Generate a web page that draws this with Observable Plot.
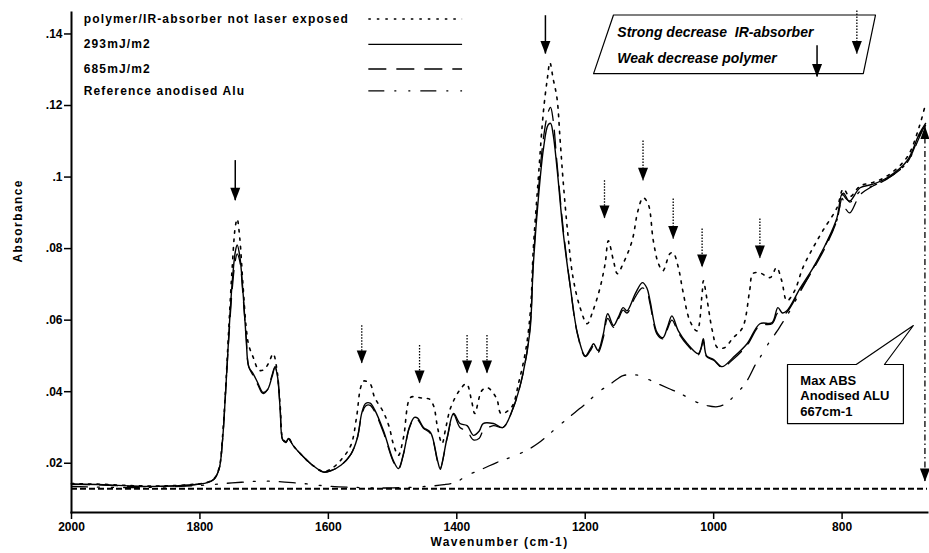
<!DOCTYPE html>
<html><head><meta charset="utf-8">
<script src="https://cdn.jsdelivr.net/npm/d3@7"></script>
<script src="https://cdn.jsdelivr.net/npm/@observablehq/plot@0.6"></script>
<style>
html,body{margin:0;padding:0;background:#fff;}
#chart{width:929px;height:553px;}
</style></head><body><div id="chart"></div>
<script>
// ---- axis ticks ----
const xTicks = [2000, 1800, 1600, 1400, 1200, 1000, 800];
const yTicks = [0.02, 0.04, 0.06, 0.08, 0.1, 0.12, 0.14];

// ---- series: shared wavenumber grid for the two laser-exposed samples ----
const wnGrid = [2000,1950,1900,1850,1810,1790,1778,1770,1765,1760,1755,1750,1745,1742,1738,1733,1728,1724,1717,1710,1702,1695,1688,1683,1679,1675,1671,1666,1662,1655,1640,1625,1608,1595,1580,1565,1555,1548,1542,1535,1528,1514,1499,1491,1483,1474,1466,1461,1452,1441,1430,1426,1415,1405,1395,1384,1374,1365,1359,1343,1328,1312,1297,1286,1281,1273,1265,1258,1254,1250,1244,1234,1223,1212,1200,1192,1187,1180,1172,1165,1156,1148,1141,1135,1122,1111,1104,1099,1088,1079,1072,1065,1055,1041,1024,1020,1016,1011,1000,987,970,948,928,909,900,893,886,865,845,823,808,800,794,788,772,752,730,699,680,670];
const abs293 = [0.0142,0.0140,0.0136,0.0136,0.0140,0.0145,0.0155,0.0185,0.026,0.040,0.056,0.070,0.079,0.081,0.078,0.068,0.055,0.047,0.045,0.0425,0.0398,0.0405,0.044,0.0468,0.044,0.035,0.0265,0.026,0.0269,0.025,0.022,0.0195,0.0176,0.018,0.0195,0.0225,0.027,0.034,0.0367,0.0368,0.035,0.029,0.0208,0.0185,0.0227,0.030,0.0328,0.0326,0.030,0.0286,0.0208,0.0185,0.0272,0.0339,0.0311,0.0305,0.0278,0.029,0.0311,0.0311,0.030,0.0356,0.045,0.057,0.075,0.094,0.108,0.1145,0.115,0.112,0.1026,0.084,0.069,0.0562,0.050,0.052,0.0534,0.0515,0.056,0.0618,0.0585,0.061,0.0635,0.0626,0.0674,0.0705,0.069,0.0654,0.0565,0.0551,0.058,0.0612,0.057,0.0534,0.0506,0.052,0.0548,0.050,0.049,0.047,0.0495,0.0534,0.059,0.0593,0.0635,0.062,0.0626,0.069,0.0747,0.0822,0.0886,0.0953,0.094,0.0933,0.097,0.098,0.0998,0.1045,0.112,0.115];
const abs685 = [0.0141,0.0139,0.0135,0.0136,0.0140,0.0146,0.0156,0.0185,0.026,0.040,0.055,0.068,0.0765,0.0785,0.0765,0.067,0.055,0.047,0.0445,0.042,0.0395,0.0405,0.0445,0.047,0.044,0.035,0.0265,0.0258,0.0268,0.025,0.022,0.0195,0.0175,0.018,0.0195,0.0225,0.027,0.0335,0.036,0.0362,0.0345,0.0285,0.0205,0.0183,0.0225,0.0298,0.0325,0.0322,0.0298,0.0283,0.0205,0.0183,0.027,0.0336,0.030,0.029,0.0265,0.027,0.029,0.0305,0.030,0.0355,0.045,0.058,0.076,0.096,0.111,0.118,0.1195,0.116,0.104,0.085,0.069,0.056,0.0498,0.0515,0.0528,0.051,0.055,0.0605,0.058,0.0605,0.0628,0.062,0.0665,0.069,0.068,0.0645,0.056,0.0548,0.0575,0.060,0.0565,0.053,0.0503,0.0518,0.054,0.0498,0.0488,0.0468,0.049,0.053,0.0585,0.059,0.062,0.0615,0.0622,0.0685,0.0742,0.0815,0.088,0.094,0.091,0.090,0.095,0.0975,0.0995,0.104,0.1115,0.1145];

// ---- not laser exposed ----
const wnNE = [2000,1950,1900,1850,1810,1790,1778,1770,1765,1760,1755,1750,1745,1742,1738,1733,1728,1724,1717,1708,1700,1693,1686,1680,1675,1671,1666,1662,1655,1640,1625,1608,1595,1580,1565,1556,1550,1545,1535,1528,1514,1505,1499,1491,1483,1472,1461,1450,1443,1436,1430,1423,1417,1410,1396,1385,1377,1372,1361,1352,1338,1331,1315,1303,1292,1285,1281,1273,1265,1259,1255,1250,1244,1239,1234,1227,1219,1208,1197,1188,1177,1169,1164,1156,1150,1141,1127,1118,1110,1102,1094,1086,1079,1068,1063,1055,1048,1037,1026,1018,1016,1010,1002,994,983,970,955,944,939,928,912,902,894,886,874,861,845,830,808,798,788,772,752,730,699,680,670];
const absNE = [0.0143,0.0141,0.0137,0.0137,0.0141,0.0146,0.0157,0.0188,0.027,0.041,0.058,0.074,0.086,0.0883,0.083,0.070,0.058,0.053,0.0496,0.046,0.0462,0.048,0.0506,0.046,0.036,0.027,0.026,0.027,0.025,0.022,0.0195,0.0177,0.0185,0.021,0.025,0.033,0.041,0.043,0.0422,0.0384,0.0342,0.030,0.0255,0.0222,0.0272,0.0384,0.0384,0.0381,0.038,0.036,0.030,0.0255,0.030,0.0353,0.0403,0.0422,0.0375,0.0339,0.0403,0.0411,0.0381,0.0339,0.0356,0.043,0.0523,0.0635,0.0794,0.0998,0.1185,0.1275,0.132,0.1275,0.1221,0.1101,0.098,0.084,0.0719,0.0635,0.059,0.0626,0.069,0.0758,0.0822,0.0766,0.073,0.0758,0.0822,0.0905,0.0942,0.0925,0.0822,0.0758,0.0738,0.0786,0.0788,0.0747,0.0682,0.0598,0.057,0.0674,0.071,0.0654,0.057,0.0523,0.0523,0.055,0.0579,0.0682,0.073,0.0732,0.0719,0.0747,0.071,0.0654,0.0682,0.0747,0.0803,0.085,0.0914,0.0967,0.0945,0.0975,0.0985,0.1003,0.1055,0.114,0.1205];

// ---- reference anodised Alu ----
const wnRef = [2000,1900,1800,1750,1700,1650,1600,1550,1500,1450,1420,1400,1385,1359,1338,1317,1291,1274,1255,1235,1216,1197,1180,1158,1141,1125,1115,1094,1070,1052,1028,1010,994,981,966,950,934,928,915,901,896,880,865,845,823,808,798,788,772,752,730,699,680,670];
const absRef = [0.0135,0.0132,0.0138,0.0145,0.0150,0.0145,0.0136,0.0132,0.0131,0.0135,0.0140,0.0148,0.0165,0.0185,0.0202,0.0216,0.0236,0.0255,0.0283,0.0314,0.0342,0.0370,0.0398,0.0425,0.0445,0.0447,0.0445,0.0428,0.0409,0.0395,0.0372,0.0361,0.0358,0.0367,0.0392,0.0425,0.0479,0.0495,0.0534,0.057,0.0584,0.063,0.068,0.0745,0.082,0.088,0.0955,0.093,0.096,0.0975,0.0995,0.104,0.111,0.115];

// ---- legend ----
const legendLabels = ["polymer/IR-absorber not laser exposed", "293mJ/m2", "685mJ/m2", "Reference anodised Alu"];
const legendY = [0.1442, 0.1371, 0.1302, 0.1241];
const legendTextW = 1981;
const legendLineW = [1537, 1391];

// ---- annotations (wavenumber / absorbance positions) ----
const polyArrowW = [1745, 1262];
const polyArrowTop = [0.1046, 0.1451];
const polyArrowTip = [0.0934, 0.1344];
const irArrowW = [1548, 1458, 1384, 1353, 1170, 1110, 1063, 1018, 928];
const irArrowTop = [0.0584, 0.0529, 0.0557, 0.0557, 0.0990, 0.1101, 0.0939, 0.0855, 0.0883];
const irArrowTip = [0.0479, 0.0423, 0.0451, 0.0451, 0.0884, 0.0990, 0.0827, 0.0747, 0.0772];
const keyBoxW = [1156, 748, 767, 1187, 1156];
const keyBoxA = [0.1453, 0.1453, 0.1289, 0.1289, 0.1453];
const keyLines = ["Strong decrease  IR-absorber", "Weak decrease polymer"];
const keyLineW = 1150;
const keyLineA = [0.1403, 0.1330];
const keyIrArrow = {w: 777, top: 0.1464, tip: 0.1344};
const keyPolyArrow = {w: 839, top: 0.1367, tip: 0.1280};
const calloutW = [885, 885, 778, 689, 734, 704.5, 704.5, 885];
const calloutA = [0.0311, 0.0476, 0.0476, 0.0585, 0.0476, 0.0476, 0.0311, 0.0311];
const calloutLines = ["Max ABS", "Anodised ALU", "667cm-1"];
const calloutTextW = 865;
const calloutTextA = [0.0431, 0.0389, 0.0344];
const maxAbsW = 671;
const maxAbsRange = [0.0149, 0.1143];
const baselineA = 0.0129;

// ---- build tables ----
const t293 = wnGrid.map((w, i) => ({w, a: abs293[i]}));
const t685 = wnGrid.map((w, i) => ({w, a: abs685[i]}));
const tNE = wnNE.map((w, i) => ({w, a: absNE[i]}));
const tRef = wnRef.map((w, i) => ({w, a: absRef[i]}));
const polyArrows = polyArrowW.map((w, i) => ({w, top: polyArrowTop[i], tip: polyArrowTip[i]}));
const irArrows = irArrowW.map((w, i) => ({w, top: irArrowTop[i], tip: irArrowTip[i]}));
const keyBox = keyBoxW.map((w, i) => ({w, a: keyBoxA[i]}));
const callout = calloutW.map((w, i) => ({w, a: calloutA[i]}));
const legend = legendLabels.map((label, i) => ({label, y: legendY[i]}));

const headDown = {draw(ctx) { ctx.moveTo(-5, -13); ctx.lineTo(5, -13); ctx.lineTo(0, 0); ctx.closePath(); }};
const headUp = {draw(ctx) { ctx.moveTo(-4.5, 13); ctx.lineTo(4.5, 13); ctx.lineTo(0, 0); ctx.closePath(); }};

const fmtY = d => d3.format(".2~f")(d).replace(/^0/, "");
const dashNE = "2.5,6";
const dash685 = "18,10";
const dashRef = "16,10,2,12,2,10";

const chart = Plot.plot({
  width: 929, height: 553,
  marginLeft: 71, marginRight: 2, marginTop: 12, marginBottom: 41,
  style: {fontFamily: '"Liberation Sans", Arial, sans-serif', fontWeight: "bold", color: "#000", background: "#fff"},
  x: {domain: [2000, 667], axis: null},
  y: {domain: [0.00623, 0.146], axis: null},
  marks: [
    Plot.axisX({ticks: xTicks, tickSize: 7, tickPadding: 3, label: null, tickFormat: d => String(d), fontSize: 12, strokeWidth: 1.5}),
    Plot.axisY({ticks: yTicks, tickSize: 7, tickPadding: 2, label: null, tickFormat: fmtY, fontSize: 12, strokeWidth: 1.5}),
    Plot.frame({anchor: "left", strokeWidth: 2}),
    Plot.frame({anchor: "bottom", strokeWidth: 2}),
    Plot.text(["Absorbance"], {frameAnchor: "left", dx: -53, rotate: -90, fontSize: 12}),
    Plot.text(["Wavenumber (cm-1)"], {frameAnchor: "bottom", dy: 33, fontSize: 12}),
    Plot.ruleY([baselineA], {stroke: "#000", strokeWidth: 2, strokeDasharray: "6,3"}),
    Plot.line(tRef, {x: "w", y: "a", stroke: "#000", strokeWidth: 1.3, strokeDasharray: dashRef, curve: "catmull-rom"}),
    Plot.line(tNE, {x: "w", y: "a", stroke: "#000", strokeWidth: 1.6, strokeDasharray: dashNE, curve: "catmull-rom"}),
    Plot.line(t685, {x: "w", y: "a", stroke: "#000", strokeWidth: 1.3, strokeDasharray: dash685, curve: "catmull-rom"}),
    Plot.line(t293, {x: "w", y: "a", stroke: "#000", strokeWidth: 1.4, curve: "catmull-rom"}),
    // arrows on spectra
    Plot.ruleX(polyArrows, {x: "w", y1: "top", y2: "tip", stroke: "#000", strokeWidth: 1.5}),
    Plot.dot(polyArrows, {x: "w", y: "tip", symbol: headDown, fill: "#000", stroke: "none"}),
    Plot.ruleX(irArrows, {x: "w", y1: "top", y2: "tip", stroke: "#000", strokeWidth: 1.3, strokeDasharray: "1.5,1.5"}),
    Plot.dot(irArrows, {x: "w", y: "tip", symbol: headDown, fill: "#000", stroke: "none"}),
    // legend
    Plot.text(legend, {x: legendTextW, y: "y", text: "label", textAnchor: "start", fontSize: 12}),
    Plot.ruleY([legendY[0]], {x1: legendLineW[0], x2: legendLineW[1], stroke: "#000", strokeWidth: 1.5, strokeDasharray: dashNE}),
    Plot.ruleY([legendY[1]], {x1: legendLineW[0], x2: legendLineW[1], stroke: "#000", strokeWidth: 1.4}),
    Plot.ruleY([legendY[2]], {x1: legendLineW[0], x2: legendLineW[1], stroke: "#000", strokeWidth: 1.4, strokeDasharray: dash685}),
    Plot.ruleY([legendY[3]], {x1: legendLineW[0], x2: legendLineW[1], stroke: "#000", strokeWidth: 1.4, strokeDasharray: dashRef}),
    // key box
    Plot.line(keyBox, {x: "w", y: "a", stroke: "#000", strokeWidth: 1.2, fill: "#fff"}),
    Plot.text(keyLines, {x: keyLineW, y: (d, i) => keyLineA[i], text: d => d, textAnchor: "start", fontSize: 14, fontStyle: "italic"}),
    Plot.ruleX([keyIrArrow], {x: "w", y1: "top", y2: "tip", stroke: "#000", strokeWidth: 1.3, strokeDasharray: "1.5,1.5"}),
    Plot.dot([keyIrArrow], {x: "w", y: "tip", symbol: headDown, fill: "#000", stroke: "none"}),
    Plot.ruleX([keyPolyArrow], {x: "w", y1: "top", y2: "tip", stroke: "#000", strokeWidth: 1.5}),
    Plot.dot([keyPolyArrow], {x: "w", y: "tip", symbol: headDown, fill: "#000", stroke: "none"}),
    // max ABS callout
    Plot.line(callout, {x: "w", y: "a", stroke: "#000", strokeWidth: 1.2, fill: "#fff"}),
    Plot.text(calloutLines, {x: calloutTextW, y: (d, i) => calloutTextA[i], text: d => d, textAnchor: "start", fontSize: 13}),
    Plot.ruleX([maxAbsW], {y1: maxAbsRange[0], y2: maxAbsRange[1], stroke: "#000", strokeWidth: 1.3, strokeDasharray: "6,3,1.5,3"}),
    Plot.dot([maxAbsW], {x: d => d, y: maxAbsRange[1], symbol: headUp, fill: "#000", stroke: "none"}),
    Plot.dot([maxAbsW], {x: d => d, y: maxAbsRange[0], symbol: headDown, fill: "#000", stroke: "none"})
  ]
});
document.getElementById("chart").appendChild(chart);

// letter spacing like the reference's spaced-out labels
const spaced = new Set([...legendLabels, "Absorbance", "Wavenumber (cm-1)"]);
d3.select(chart).selectAll("text").each(function () {
  const t = this.textContent;
  if (spaced.has(t)) this.setAttribute("letter-spacing", t === "Absorbance" || t.startsWith("Wave") ? "1.4" : "1.15");
});
</script></body></html>
